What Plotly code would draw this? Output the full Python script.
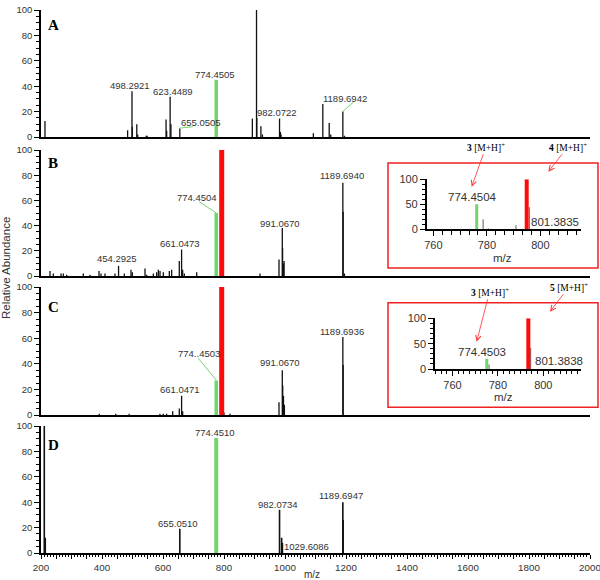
import plotly.graph_objects as go

W, H = 600, 580

# ---------------- data (m/z, relative abundance) ----------------
A_mz = [213, 484, 498.3, 499.5, 514, 517, 545, 548, 610, 612, 623.4, 626, 655.1,
        893, 906.6, 907.6, 921, 926, 982.1, 985, 987, 1093, 1124, 1145, 1150, 1189.7, 1195]
A_int = [12.6, 5.3, 36, 8, 10, 2, 1, 1, 13.7, 5, 31.6, 10, 6.6,
         14.5, 100, 15, 8.4, 2, 14.5, 4, 2, 3, 26, 11, 2, 20, 1]
A_green_mz = [774.45]
A_green_int = [45]

B_mz = [229.5, 240.4, 265.6, 273.2, 284.2, 338.8, 360.7, 390.2, 396.7, 409.8, 442.6,
        454.3, 473.2, 495.1, 499.5, 541, 546.4, 568.3, 579.2, 584.7, 590.2, 601.1,
        620.8, 628.4, 653.4, 661.0, 664.5, 670, 710.5, 918, 980.3, 991.1, 992.1, 995, 997,
        1189.7, 1190.7, 1195]
B_int = [4, 2, 2, 2, 1, 2, 1, 4, 2, 2, 2,
         8, 2, 5, 3, 6, 1, 2, 3, 5, 4, 3,
         4, 5, 12, 21, 5, 2, 3, 2, 13, 38, 22, 10, 12,
         74, 51, 2]
B_green_mz = [774.45]
B_green_int = [50]
B_red_mz = [792.44]
B_red_int = [100]

C_mz = [391, 445, 489, 590, 601, 612, 631.7, 653.4, 661.0, 664.5, 800, 819.7,
        980.3, 991.1, 992.5, 995, 998, 1189.7, 1190.7]
C_int = [1, 1, 1, 1, 1, 1, 3, 5, 15, 3, 2, 1,
         10, 35, 23, 15, 8, 61, 39]
C_green_mz = [774.45]
C_green_int = [27]
C_red_mz = [792.44]
C_red_int = [100]

D_mz = [210.8, 214, 655.1, 982.1, 989, 991.5, 1189.7, 1190.7]
D_int = [100, 12, 19, 34, 12, 8, 40, 26]
D_green_mz = [774.45]
D_green_int = [90.5]

# insets (m/z positions as read on the inset axes)
IB_mz = [778.6, 780.5, 790.9, 795.9]
IB_int = [20, 2, 8, 44]
IB_green_mz = [776.2]
IB_green_int = [50]
IB_red_mz = [794.9]
IB_red_int = [100]

IC_mz = [776.1, 794.4]
IC_int = [9, 42]
IC_green_mz = [775.1]
IC_green_int = [20]
IC_red_mz = [793.4]
IC_red_int = [100]

main_ticks = [200, 400, 600, 800, 1000, 1200, 1400, 1600, 1800, 2000]
y_ticks = [0, 20, 40, 60, 80, 100]
inset_x_ticks = [760, 780, 800]
inset_y_ticks = [0, 50, 100]

# peak labels: (text, x in m/z, y in % of the panel axis)
A_labels = [("906.5656", 901.6, 104), ("498.2921", 490.8, 40.2), ("623.4489", 632, 36.2),
            ("774.4505", 768.9, 49.6), ("655.0505", 723.4, 11.3), ("982.0722", 973.8, 19.1),
            ("1189.6942", 1197.7, 30.5)]
B_labels = [("792.4411", 786.2, 105.3), ("774.4504", 711.5, 62.1), ("661.0473", 655.7, 25.4),
            ("454.2925", 448.2, 13.5), ("991.0670", 985.2, 41.3), ("1189.6940", 1186.9, 79.6)]
C_labels = [("792.4409", 786.2, 104.1), ("774..4503", 716.4, 48.2), ("661.0471", 655.7, 20.1),
            ("991.0670", 985.2, 40.9), ("1189.6936", 1186.9, 65.1)]
D_labels = [("774.4510", 768.9, 94.7), ("655.0510", 650.2, 23.4), ("982.0734", 975.4, 38.3),
            ("1029.6086", 1070.0, 5.5), ("1189.6947", 1183.6, 44.9)]
IB_labels = [("792.4411", 792.8, 113), ("774.4504", 774.7, 64.6), ("801.3835", 805.6, 15.2)]
IC_labels = [("792.4409", 790.6, 115), ("774.4503", 772.9, 34.1), ("801.3838", 806.9, 16.4)]

# green leader lines (x0, y0, x1, y1) in panel data units
A_leaders = [(655.1, 7.0, 697.4, 8.1), (1191.1, 20.5, 1223.9, 27.3)]
B_leaders = [(719.0, 59.0, 774.45, 50.0)]
C_leaders = [(715.7, 44.3, 774.45, 27.3)]

BLACK = "#111111"
GREEN = "#72d46c"
RED = "#ff0a0a"
GRAY = "#7a7a7a"
TXT = "#333333"
FONT = "Liberation Sans"


def fx(p):
    return p / W


def fy(p):
    return 1 - p / H


def sticks(mz, inten):
    xs, ys = [], []
    for m, v in zip(mz, inten):
        xs += [m, m, None]
        ys += [0, v, None]
    return xs, ys


fig = go.Figure()


def add_sticks(mz, inten, xa, ya, color, width):
    xs, ys = sticks(mz, inten)
    fig.add_trace(go.Scatter(x=xs, y=ys, mode="lines", xaxis=xa, yaxis=ya,
                             line=dict(color=color, width=width), hoverinfo="skip",
                             showlegend=False))


# panels
add_sticks(A_mz, A_int, "x", "y", BLACK, 1.3)
add_sticks(A_green_mz, A_green_int, "x", "y", GREEN, 3.5)
add_sticks(B_mz, B_int, "x2", "y2", BLACK, 1.3)
add_sticks(B_green_mz, B_green_int, "x2", "y2", GREEN, 3.5)
add_sticks(B_red_mz, B_red_int, "x2", "y2", RED, 5)
add_sticks(C_mz, C_int, "x3", "y3", BLACK, 1.3)
add_sticks(C_green_mz, C_green_int, "x3", "y3", GREEN, 3.5)
add_sticks(C_red_mz, C_red_int, "x3", "y3", RED, 5)
add_sticks(D_mz, D_int, "x4", "y4", BLACK, 1.6)
add_sticks(D_green_mz, D_green_int, "x4", "y4", GREEN, 4)
# insets
add_sticks(IB_mz, IB_int, "x5", "y5", GRAY, 1.2)
add_sticks(IB_green_mz, IB_green_int, "x5", "y5", GREEN, 3)
add_sticks(IB_red_mz, IB_red_int, "x5", "y5", RED, 4)
add_sticks(IC_mz, IC_int, "x6", "y6", GRAY, 1.2)
add_sticks(IC_green_mz, IC_green_int, "x6", "y6", GREEN, 3)
add_sticks(IC_red_mz, IC_red_int, "x6", "y6", RED, 4)

# leader lines
for leaders, xa, ya in [(A_leaders, "x", "y"), (B_leaders, "x2", "y2"), (C_leaders, "x3", "y3")]:
    for (x0, y0, x1, y1) in leaders:
        fig.add_trace(go.Scatter(x=[x0, x1], y=[y0, y1], mode="lines", xaxis=xa, yaxis=ya,
                                 line=dict(color=GREEN, width=1), hoverinfo="skip",
                                 showlegend=False))

# ---------------- axes ----------------
main_xdom = [fx(41), fx(590)]
panel_ydom = {
    "": [fy(137), fy(10)],
    "2": [fy(276), fy(150)],
    "3": [fy(415), fy(287)],
    "4": [fy(553), fy(426)],
}

ycommon = dict(range=[0, 100], tickmode="array", tickvals=y_ticks, ticks="outside",
               ticklen=5, tickwidth=1.2, tickcolor="black", showline=True,
               linecolor="black", linewidth=1.5, showgrid=False, zeroline=False,
               automargin=False,
               tickfont=dict(size=9.5, color=TXT, family=FONT),
               minor=dict(tickmode="linear", tick0=0, dtick=5, ticks="outside",
                          ticklen=3, tickcolor="black", showgrid=False))

layout = dict(width=W, height=H, margin=dict(l=0, r=0, t=0, b=0, autoexpand=False),
              paper_bgcolor="white", plot_bgcolor="rgba(0,0,0,0)", showlegend=False)

d_tickvals = list(range(main_ticks[0], main_ticks[-1] + 1, 50))
d_ticktext = [str(v) if v in main_ticks else "" for v in d_tickvals]

for k, dom in panel_ydom.items():
    xname = "xaxis" + k
    yname = "yaxis" + k
    xa = dict(domain=main_xdom, range=[200, 2000], showline=True, linecolor="black",
              linewidth=1.8, showgrid=False, zeroline=False, anchor="y" + k,
              automargin=False)
    if k == "4":
        xa.update(tickmode="array", tickvals=d_tickvals, ticktext=d_ticktext,
                  ticks="outside", ticklen=4, tickwidth=1.2, tickcolor="black",
                  ticklabeloverflow="allow",
                  tickfont=dict(size=9.8, color=TXT, family=FONT),
                  minor=dict(tickmode="linear", tick0=200, dtick=10, ticks="outside",
                             ticklen=2, tickcolor="black", showgrid=False))
    else:
        xa.update(ticks="", showticklabels=False)
    layout[xname] = xa
    ya = dict(ycommon)
    ya.update(domain=dom, anchor="x" + k)
    layout[yname] = ya

# inset axes
inset_font = dict(size=11, color=TXT, family=FONT)
inset_common = dict(ticks="outside", ticklen=5, tickwidth=1.2, tickcolor="black",
                    showline=True, linecolor="black", linewidth=1.5, showgrid=False,
                    zeroline=False, tickfont=inset_font, automargin=False, tickmode="array")
layout["xaxis5"] = dict(domain=[fx(426.7), fx(581)], range=[757.5, 815.2], anchor="y5",
                        tickvals=inset_x_ticks,
                        minor=dict(tickmode="linear", tick0=760, dtick=10 / 3, ticks="outside",
                                   ticklen=4, tickcolor="black", showgrid=False),
                        **inset_common)
layout["yaxis5"] = dict(domain=[fy(229.3), fy(179.3)], range=[0, 100], anchor="x5",
                        tickvals=inset_y_ticks,
                        minor=dict(tickmode="linear", tick0=0, dtick=10, ticks="outside",
                                   ticklen=3, tickcolor="black", showgrid=False),
                        **inset_common)
layout["xaxis6"] = dict(domain=[fx(435), fx(581)], range=[752.3, 816.6], anchor="y6",
                        tickvals=inset_x_ticks,
                        minor=dict(tickmode="linear", tick0=760, dtick=2.5, ticks="outside",
                                   ticklen=3, tickcolor="black", showgrid=False),
                        **inset_common)
layout["yaxis6"] = dict(domain=[fy(369), fy(318.3)], range=[0, 100], anchor="x6",
                        tickvals=inset_y_ticks,
                        minor=dict(tickmode="linear", tick0=0, dtick=10, ticks="outside",
                                   ticklen=3, tickcolor="black", showgrid=False),
                        **inset_common)

fig.update_layout(**layout)

# ---------------- annotations ----------------
ann = []
lab_font = dict(size=9.5, color=TXT, family=FONT)
for labels, xr, yr in [(A_labels, "x", "y"), (B_labels, "x2", "y2"),
                       (C_labels, "x3", "y3"), (D_labels, "x4", "y4")]:
    for t, x, y in labels:
        ann.append(dict(text=t, x=x, y=y, xref=xr, yref=yr, showarrow=False,
                        font=lab_font, xanchor="center", yanchor="middle"))
for labels, xr, yr in [(IB_labels, "x5", "y5"), (IC_labels, "x6", "y6")]:
    for t, x, y in labels:
        ann.append(dict(text=t, x=x, y=y, xref=xr, yref=yr, showarrow=False,
                        font=dict(size=11.5, color=TXT, family=FONT),
                        xanchor="center", yanchor="middle"))

# panel letters
for letter, yp in [("A", 25), ("B", 163), ("C", 307), ("D", 445)]:
    ann.append(dict(text="<b>%s</b>" % letter, x=fx(53), y=fy(yp), xref="paper", yref="paper",
                    showarrow=False, font=dict(size=15, color="black", family="Liberation Serif"),
                    xanchor="center", yanchor="middle"))

# axis titles
ann.append(dict(text="Relative Abundance", x=fx(6), y=fy(268), xref="paper", yref="paper",
                showarrow=False, textangle=-90, font=dict(size=11.5, color=TXT, family=FONT),
                xanchor="center", yanchor="middle"))
ann.append(dict(text="m/z", x=fx(312), y=fy(574), xref="paper", yref="paper",
                showarrow=False, font=dict(size=10, color=TXT, family=FONT),
                xanchor="center", yanchor="middle"))
ann.append(dict(text="m/z", x=fx(502), y=fy(258.3), xref="paper", yref="paper",
                showarrow=False, font=dict(size=11.5, color=TXT, family=FONT),
                xanchor="center", yanchor="middle"))
ann.append(dict(text="m/z", x=fx(503), y=fy(396.7), xref="paper", yref="paper",
                showarrow=False, font=dict(size=11.5, color=TXT, family=FONT),
                xanchor="center", yanchor="middle"))

# compound arrows (text position -> arrow head)
arrows = [("3", 486, 146.7, 471.7, 186.7), ("4", 568, 146.7, 548.3, 171.7),
          ("3", 489.5, 291.7, 476.7, 341.7), ("5", 569, 286.7, 550, 311.7)]
for num, tx, ty, hx, hy in arrows:
    ann.append(dict(text="<b>%s</b> [M+H]<sup>+</sup>" % num, x=fx(hx), y=fy(hy),
                    xref="paper", yref="paper", showarrow=True, ax=tx - hx, ay=ty - hy,
                    arrowcolor="#ff3030", arrowwidth=0.8, arrowhead=5, arrowsize=1.3,
                    font=dict(size=9.5, color="black", family="Liberation Serif")))

fig.update_layout(annotations=ann)

# inset frames
for (x0, y0, x1, y1) in [(388, 163, 598, 268), (388, 302.7, 598, 407.3)]:
    fig.add_shape(type="rect", xref="paper", yref="paper", x0=fx(x0), x1=fx(x1),
                  y0=fy(y1), y1=fy(y0), line=dict(color="#ee2222", width=1.5),
                  fillcolor="white", layer="below")

fig.write_html("out.html", config={"displayModeBar": False},
               post_script="document.body.style.margin='0';document.body.style.overflow='hidden';")
